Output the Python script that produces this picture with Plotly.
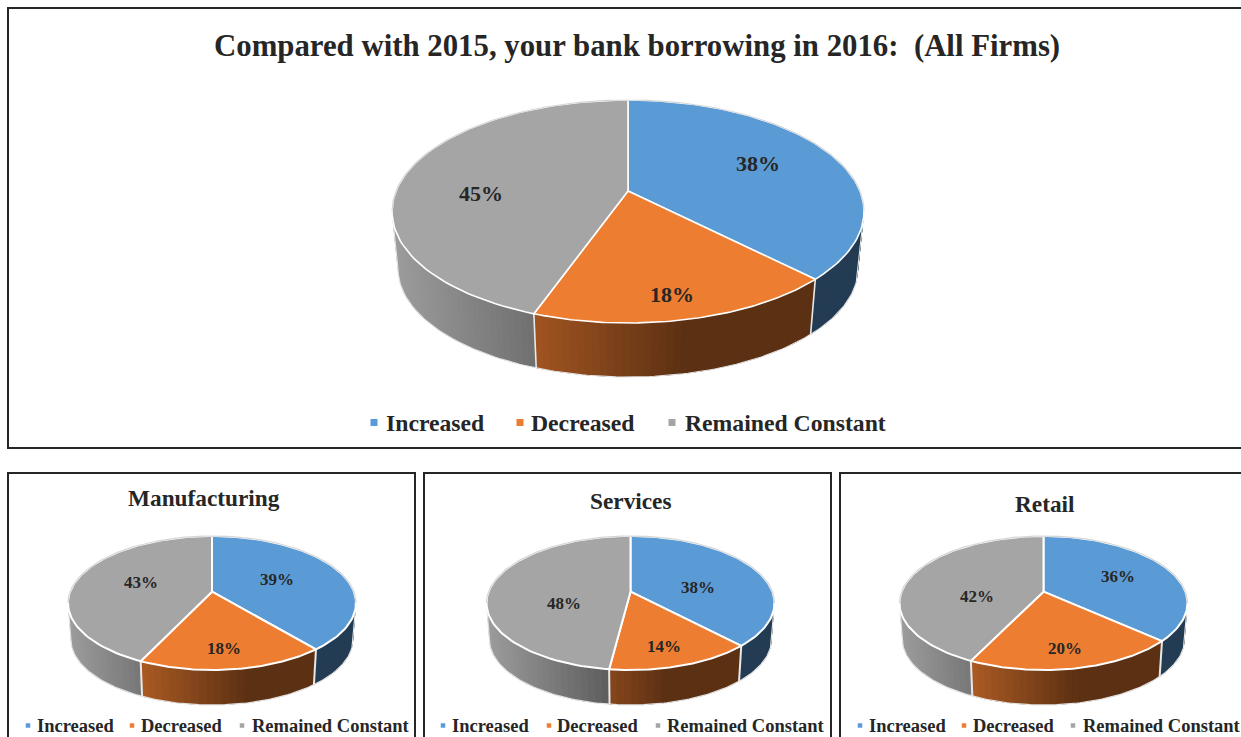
import numpy as np
import plotly.graph_objects as go

# Survey shares, in percent, in the order of CATEGORIES
CATEGORIES = ["Increased", "Decreased", "Remained Constant"]
ALL_FIRMS = [38, 18, 45]
MANUFACTURING = [39, 18, 43]
SERVICES = [38, 14, 48]
RETAIL = [36, 20, 42]

MAIN_TITLE = "Compared with 2015, your bank borrowing in 2016:\u00a0 (All Firms)"
SECTOR_TITLES = ["Manufacturing", "Services", "Retail"]

COLORS = [(91, 155, 213), (237, 125, 49), (165, 165, 165)]
INK = "#262626"
SERIF = "Liberation Serif"

W, H = 1241, 737

# Pie geometry on the page, in page pixels
MAIN_PIE = dict(cx=628, top=100, apex=191, front=323, half=236, floor=377, shrink=0.975)
SMALL_PIE = dict(top=536, apex=591.7, front=670, half=144, floor=705, shrink=0.98)


def perspective(p):
    up, down = p["apex"] - p["top"], p["front"] - p["apex"]
    return (down - up) / (down + up)


def projector(p):
    """Map a point of the unit disc to the page, with a simple perspective."""
    up, down = p["apex"] - p["top"], p["front"] - p["apex"]
    k = perspective(p)
    ry = up * (1 + k)
    rx = p["half"] * np.sqrt(1 - k * k)
    drop = p["floor"] - p["apex"] - p["shrink"] * down

    def project(theta, radius=1.0, base=False):
        u, v = radius * np.sin(theta), radius * np.cos(theta)
        w = 1 + k * v
        dx, dy = rx * u / w, -ry * v / w
        if base:
            return p["cx"] + p["shrink"] * dx, p["apex"] + drop + p["shrink"] * dy
        return p["cx"] + dx, p["apex"] + dy

    return project


def wall_shade(x, p):
    """Darkening of the side wall, running left to right across the pie."""
    t = (x - (p["cx"] - p["half"])) / (2 * p["half"])
    return max(0.39, 0.95 - 0.9 * t)


def draw_pie(fig, values, p, edge, step_deg):
    project = projector(p)
    cuts = np.concatenate([[0], np.cumsum(values)]) / sum(values) * 2 * np.pi

    # Side walls first: strips that each overlap the next one, so no seams show.
    # The back of the ring is left out, the top face would hide it anyway.
    step = np.radians(step_deg)
    for i, name in enumerate(CATEGORIES):
        a0, a1 = cuts[i], cuts[i + 1]
        n = max(int((a1 - a0) / step), 1)
        edges = np.linspace(a0, a1, n + 1)
        for s, e in zip(edges[:-1], edges[1:]):
            if np.cos((s + e) / 2) > 0.75:
                continue
            x_mid = (project(s)[0] + project(e)[0]) / 2
            f = 0.39 if i == 0 else wall_shade(x_mid, p)
            col = "rgb(%d,%d,%d)" % tuple(c * f for c in COLORS[i])
            th = np.linspace(s, min(e + 3 * step, a1), 6)
            top = [project(t) for t in th]
            bottom = [project(t, base=True) for t in th[::-1]]
            ring = top + bottom + top[:1]
            fig.add_trace(go.Scatter(
                x=[q[0] for q in ring], y=[q[1] for q in ring],
                mode="lines", fill="toself", fillcolor=col,
                line=dict(width=0),
                hoverinfo="skip", showlegend=False))

    # Pale silhouette of the wall: its two sides and its foot
    side = np.arccos(-perspective(p))
    th = np.linspace(side, 2 * np.pi - side, 160)
    foot = [project(side)] + [project(t, base=True) for t in th] + [project(2 * np.pi - side)]
    fig.add_trace(go.Scatter(x=[q[0] for q in foot], y=[q[1] for q in foot], mode="lines",
                             line=dict(color="#e4e4e4", width=min(edge * 0.7, 1.2)),
                             hoverinfo="skip", showlegend=False))

    # Seams between slices
    for c in cuts[1:-1]:
        x0, y0 = project(c)
        x1, y1 = project(c, base=True)
        fig.add_trace(go.Scatter(x=[x0, x1], y=[y0, y1], mode="lines",
                                 line=dict(color="#e8e8e8", width=edge),
                                 hoverinfo="skip", showlegend=False))

    # Top face of every slice
    for i, name in enumerate(CATEGORIES):
        th = np.linspace(cuts[i], cuts[i + 1], 90)
        ax, ay = zip(*[project(t) for t in th])
        fig.add_trace(go.Scatter(
            x=[p["cx"], *ax, p["cx"]], y=[p["apex"], *ay, p["apex"]],
            mode="lines", fill="toself",
            fillcolor="rgb(%d,%d,%d)" % COLORS[i],
            line=dict(color="white", width=edge),
            name=name, text=f"{name}: {values[i]}%", hoverinfo="text",
            showlegend=False))

    # Thin grey rim around the back of the disc
    th = np.linspace(-side, side, 120)
    rx_, ry_ = zip(*[project(t) for t in th])
    fig.add_trace(go.Scatter(x=rx_, y=ry_, mode="lines",
                             line=dict(color="#d6d6d6", width=min(edge * 0.7, 1.2)),
                             hoverinfo="skip", showlegend=False))


def note(text, x, y, size, anchor="center"):
    return dict(text=text, x=x, y=y, xref="x", yref="y", showarrow=False,
                xanchor=anchor, yanchor="middle",
                font=dict(family=SERIF, size=size, color=INK, weight="bold"))


def draw_legend(fig, annotations, marks, texts, y, size, mark_size):
    for i, name in enumerate(CATEGORIES):
        fig.add_trace(go.Scatter(
            x=[marks[i]], y=[y], mode="markers",
            marker=dict(symbol="square", size=mark_size,
                        color="rgb(%d,%d,%d)" % COLORS[i]),
            hoverinfo="skip", showlegend=False))
        annotations.append(note(name, texts[i], y, size, "left"))


fig = go.Figure()
notes = []

# Panel frames, the outer ones run off the page
FRAMES = [(8, 8, 1260, 448), (8, 473, 415, 760), (424, 473, 831, 760), (840, 473, 1260, 760)]
shapes = [dict(type="rect", xref="x", yref="y", x0=a, y0=b, x1=c, y1=d,
               line=dict(color=INK, width=2), layer="below") for a, b, c, d in FRAMES]

# Whole sample
draw_pie(fig, ALL_FIRMS, MAIN_PIE, 1.6, 1.5)
notes.append(note(MAIN_TITLE, 637, 45.5, 30.8))
for v, (x, y) in zip(ALL_FIRMS, [(758, 163.5), (672, 294.5), (481, 193.5)]):
    notes.append(note(f"{v}%", x, y, 22))
draw_legend(fig, notes, [374, 520, 672], [383.5, 529, 682.5], 422.5, 23.7, 7)

# The three sectors
SECTORS = [MANUFACTURING, SERVICES, RETAIL]
CENTERS = [212, 630.5, 1043.5]
TITLE_POS = [(204, 497.5), (631, 500.5), (1045, 503.5)]
VALUE_POS = [
    [(277, 579.5), (224, 648.5), (141, 582.5)],
    [(698, 587.5), (664, 646.5), (564, 603.5)],
    [(1118, 576.5), (1065, 648.5), (977, 596.5)],
]
LEGEND_MARKS = [[28, 132, 242], [443, 549, 658], [860, 964, 1073]]
LEGEND_TEXTS = [[34.5, 139, 249.5], [450, 555, 665], [867, 971, 1081]]

for values, cx, title, tpos, vpos, marks, texts in zip(
        SECTORS, CENTERS, SECTOR_TITLES, TITLE_POS, VALUE_POS, LEGEND_MARKS, LEGEND_TEXTS):
    draw_pie(fig, values, SMALL_PIE | {"cx": cx}, 2.0, 2.5)
    notes.append(note(title, tpos[0], tpos[1], 23.3))
    for v, (x, y) in zip(values, vpos):
        notes.append(note(f"{v}%", x, y, 17))
    draw_legend(fig, notes, marks, texts, 725.5, 18.5, 4.5)

fig.update_layout(
    width=W, height=H, margin=dict(l=0, r=0, t=0, b=0),
    paper_bgcolor="white", plot_bgcolor="white",
    xaxis=dict(range=[0, W], visible=False, fixedrange=True),
    yaxis=dict(range=[H, 0], visible=False, fixedrange=True),
    shapes=shapes, annotations=notes, showlegend=False,
)
fig.write_html("out.html", config=dict(displayModeBar=False))
